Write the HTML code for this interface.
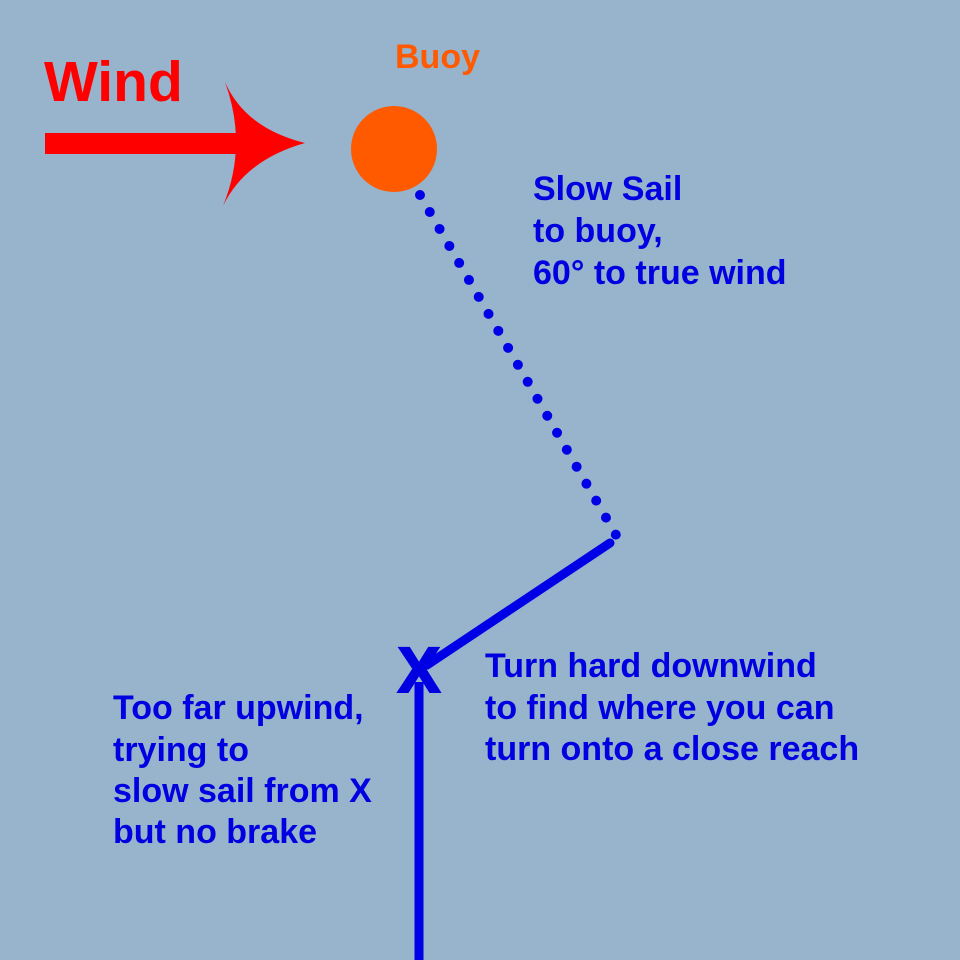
<!DOCTYPE html>
<html><head><style>html,body{margin:0;padding:0;background:#98b3cc}</style></head>
<body>
<svg width="960" height="960" viewBox="0 0 960 960" xmlns="http://www.w3.org/2000/svg" style="display:block">
<rect width="960" height="960" fill="#98b3cc"/>
<g font-family="Liberation Sans, Arial, sans-serif" font-weight="bold">
<text x="44" y="101" font-size="57" fill="#ff0000">Wind</text>
<text x="395" y="68" font-size="34" fill="#ff5a00">Buoy</text>
<g fill="#0000e0" font-size="34">
<text x="533" y="200">Slow Sail</text>
<text x="533" y="242">to buoy,</text>
<text x="533" y="284">60° to true wind</text>
<text x="485" y="677">Turn hard downwind</text>
<text x="485" y="719">to find where you can</text>
<text x="485" y="760">turn onto a close reach</text>
<text x="113" y="719">Too far upwind,</text>
<text x="113" y="761">trying to</text>
<text x="113" y="802">slow sail from X</text>
<text x="113" y="843">but no brake</text>
<text x="419" y="692" font-size="64" text-anchor="middle" stroke="#0000e0" stroke-width="2">X</text>
</g>
</g>
<rect x="45" y="133" width="200" height="21" fill="#ff0000"/>
<path d="M305,143 Q245,160 223,206 Q248,145 225,82 Q245,128 305,143 Z" fill="#ff0000"/>
<circle cx="394" cy="149" r="43" fill="#ff5a00"/>
<line x1="420" y1="195" x2="616" y2="535" stroke="#0000e6" stroke-width="10" stroke-linecap="round" stroke-dasharray="0 19.6"/>
<line x1="427" y1="665" x2="610" y2="543" stroke="#0000e6" stroke-width="9" stroke-linecap="round"/>
<line x1="419" y1="682" x2="419" y2="960" stroke="#0000e6" stroke-width="9"/>
</svg>
</body></html>
